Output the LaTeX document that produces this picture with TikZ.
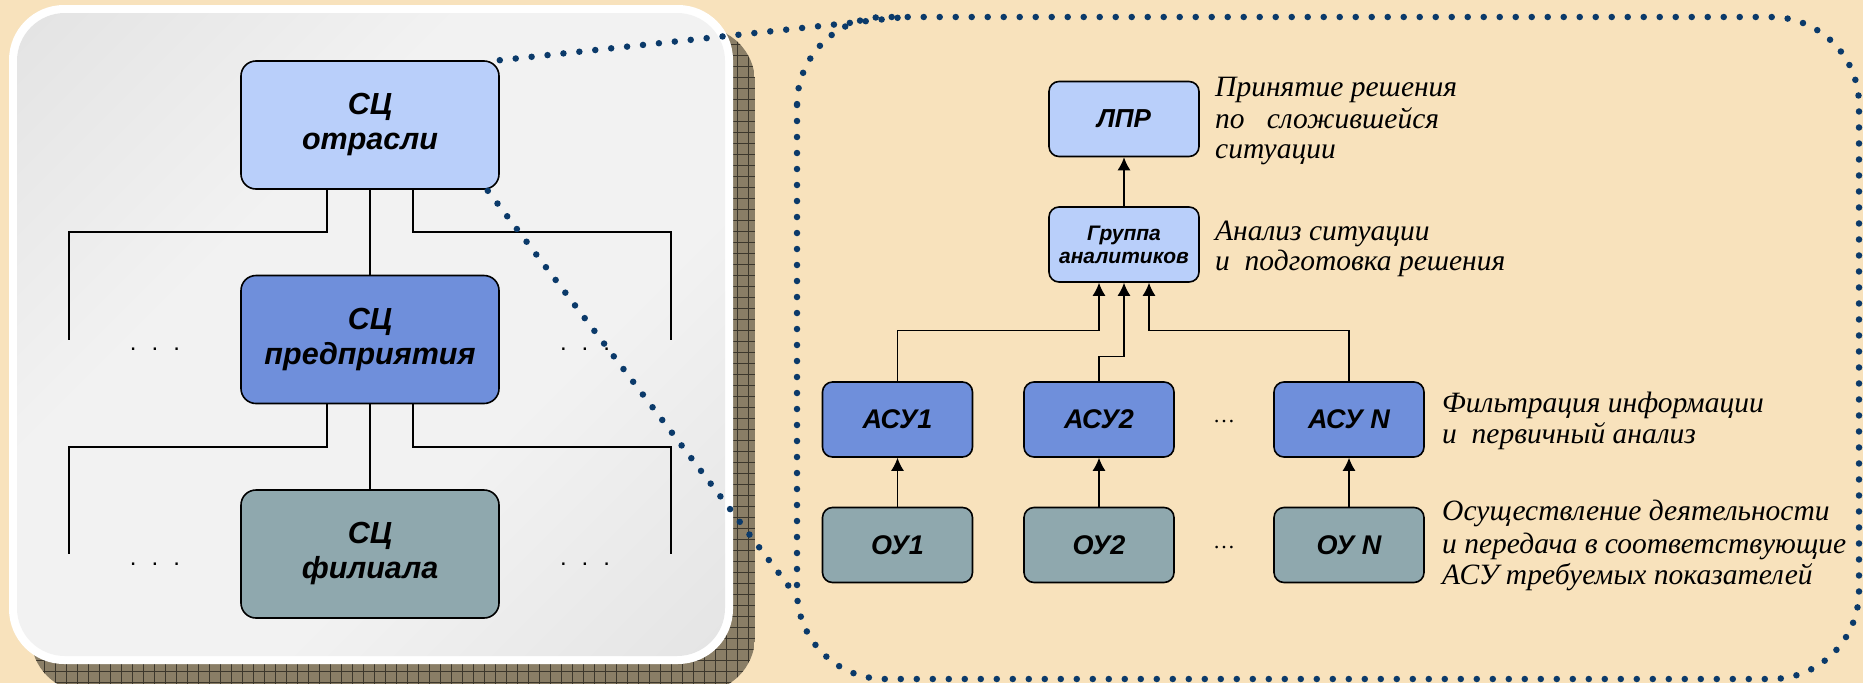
\documentclass[tikz,border=0pt]{standalone}
\usepackage{fontspec}
\setmainfont{Liberation Serif}
\setsansfont{Liberation Sans}
\usetikzlibrary{arrows.meta}
\definecolor{bgc}{HTML}{F8E2BC}
\definecolor{cA}{HTML}{B9CFFA}
\definecolor{cB}{HTML}{6F8FDB}
\definecolor{cC}{HTML}{8FA8AE}
\definecolor{dotc}{HTML}{0B3A6A}
\definecolor{shadc}{HTML}{8A7E66}
\definecolor{gridc}{HTML}{3C372C}
\definecolor{pan1}{HTML}{DADADA}
\definecolor{pan2}{HTML}{F2F2F2}
\definecolor{pan3}{HTML}{DCDCDC}
\pgfdeclareverticalshading{panshade}{100bp}{color(0bp)=(pan3); color(38bp)=(pan2); color(62bp)=(pan2); color(100bp)=(pan1)}
\tikzset{
  lbox/.style={draw=black, line width=1.6pt, rounded corners=15pt, minimum width=258pt,
    minimum height=128pt, inner sep=0pt, align=center,
    font=\sffamily\bfseries\itshape\fontsize{30.5}{35}\selectfont},
  rbox/.style={draw=black, line width=1.6pt, rounded corners=10pt, minimum width=150pt,
    minimum height=75pt, inner sep=0pt, align=center,
    font=\sffamily\bfseries\itshape\fontsize{27}{30}\selectfont},
  conn/.style={draw=black, line width=1.5pt},
  arr/.style={draw=black, line width=1.4pt, -{Latex[length=13pt,width=13pt]}},
  dotline/.style={draw=dotc, line width=6.5pt, line cap=round, dash pattern=on 0pt off 16pt},
  lbl/.style={anchor=base west, inner sep=0pt, font=\itshape\fontsize{29.5}{31}\selectfont},
  ldots/.style={anchor=base, inner sep=0pt, font=\sffamily\fontsize{24}{24}\selectfont},
  rdots/.style={anchor=center, inner sep=0pt, font=\fontsize{22}{22}\selectfont},
}
\begin{document}
\begin{tikzpicture}[x=1pt,y=-1pt]
\useasboundingbox (0,0) rectangle (1863,683);
\fill[bgc] (0,0) rectangle (1863,683);
% shadow of left panel
\begin{scope}
\clip[rounded corners=55pt] (31,27) rectangle (755,692);
\fill[shadc] (31,27) rectangle (755,692);
\draw[gridc, line width=0.8pt] (31,27) grid[step=11pt] (755,692);
\end{scope}
% left panel
\fill[white, rounded corners=55pt] (9,5) rectangle (733,664);
\path[rounded corners=48pt, shading=panshade, shading angle=45] (17,13) rectangle (725,656);

% left boxes
\node[lbox, fill=cA] (otr) at (370,125) {СЦ\\отрасли};
\node[lbox, fill=cB] (ent) at (370,339.5) {СЦ\\предприятия};
\node[lbox, fill=cC] (fil) at (370,554) {СЦ\\филиала};

\coordinate (h1l) at (69,232);
\coordinate (v1l) at (69,340);
\coordinate (h1r) at (671,232);
\coordinate (v1r) at (671,340);
\coordinate (h2l) at (69,447);
\coordinate (v2l) at (69,554);
\coordinate (h2r) at (671,447);
\coordinate (v2r) at (671,554);

\draw[conn] ([xshift=-43pt]otr.south) |- (h1l) -- (v1l);
\draw[conn] ([xshift=43pt]otr.south) |- (h1r) -- (v1r);
\draw[conn] (otr.south) -- (ent.north);
\draw[conn] ([xshift=-43pt]ent.south) |- (h2l) -- (v2l);
\draw[conn] ([xshift=43pt]ent.south) |- (h2r) -- (v2r);
\draw[conn] (ent.south) -- (fil.north);

\node[ldots] (d1) at (155,350) {.\hspace{15pt}.\hspace{15pt}.};
\node[ldots] (d2) at (585,350) {.\hspace{15pt}.\hspace{15pt}.};
\node[ldots] (d3) at (155,565) {.\hspace{15pt}.\hspace{15pt}.};
\node[ldots] (d4) at (585,565) {.\hspace{15pt}.\hspace{15pt}.};

% right dotted panel
\draw[dotline, rounded corners=88pt] (797,17) rectangle (1859,679);
\coordinate (pa) at (905,17);
\coordinate (pb) at (797,597);
\draw[dotline] (otr.north east) -- (pa);
\draw[dotline] ([xshift=-12pt,yshift=-1pt]otr.south east) -- (pb);

% right boxes
\node[rbox, fill=cA, font=\sffamily\bfseries\itshape\fontsize{26}{28}\selectfont] (lpr) at (1124,119) {ЛПР};
\node[rbox, fill=cA, font=\sffamily\bfseries\itshape\fontsize{21}{23}\selectfont] (grp) at (1124,244.5) {Группа\\аналитиков};
\node[rbox, fill=cB] (asu1) at (897.5,419.5) {АСУ1};
\node[rbox, fill=cB] (asu2) at (1099,419.5) {АСУ2};
\node[rbox, fill=cB] (asun) at (1349,419.5) {АСУ N};
\node[rbox, fill=cC] (ou1) at (897.5,545) {ОУ1};
\node[rbox, fill=cC] (ou2) at (1099,545) {ОУ2};
\node[rbox, fill=cC] (oun) at (1349,545) {ОУ N};

\node[rdots] (e1) at (1224,422) {…};
\node[rdots] (e2) at (1224,548) {…};

\draw[arr] (grp.north) -- (lpr.south);
\draw[arr] (asu1.north) -- ++(0,-51) -| ([xshift=-25pt]grp.south);
\draw[arr] (asu2.north) -- ++(0,-25) -| (grp.south);
\draw[arr] (asun.north) -- ++(0,-51) -| ([xshift=25pt]grp.south);
\draw[arr] (ou1.north) -- (asu1.south);
\draw[arr] (ou2.north) -- (asu2.south);
\draw[arr] (oun.north) -- (asun.south);

% labels
\node[lbl] (t1) at (1215,96) {Принятие решения};
\node[lbl] (t2) at (1215,128) {по\ \ \ сложившейся};
\node[lbl] (t3) at (1215,158) {ситуации};
\node[lbl] (t4) at (1215,240) {Анализ ситуации};
\node[lbl] (t5) at (1215,270) {и\ \ подготовка решения};
\node[lbl] (t6) at (1442,412) {Фильтрация информации};
\node[lbl] (t7) at (1442,443) {и\ \ первичный анализ};
\node[lbl] (t8) at (1442,520) {Осуществление деятельности};
\node[lbl] (t9) at (1442,553) {и передача в соответствующие};
\node[lbl] (t10) at (1442,584) {АСУ требуемых показателей};
\end{tikzpicture}
\end{document}
